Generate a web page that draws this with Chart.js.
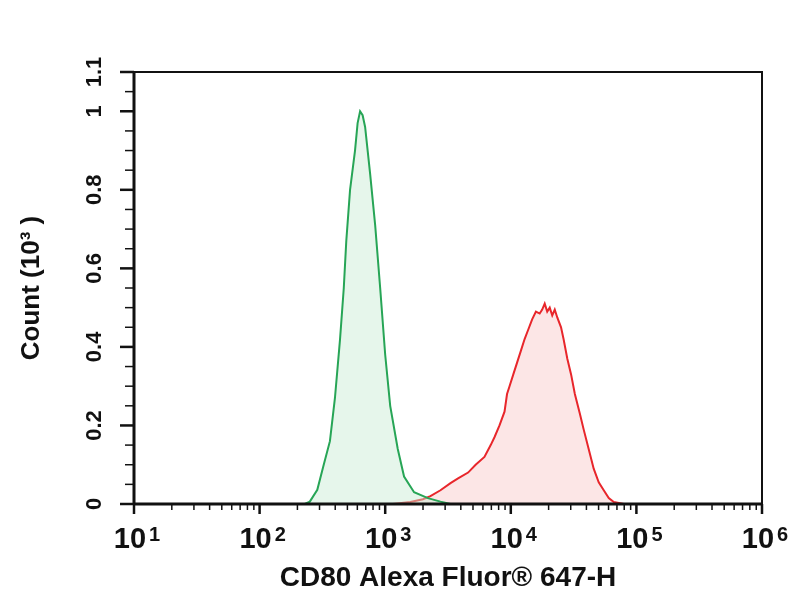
<!DOCTYPE html>
<html>
<head>
<meta charset="utf-8">
<script src="https://cdn.jsdelivr.net/npm/chart.js@4.4.1/dist/chart.umd.min.js"></script>
<style>
html,body{margin:0;padding:0;background:#fff;}
</style>
</head>
<body>
<canvas id="histo" width="804" height="600"></canvas>
<script>
// control (green) and CD80 stained (red) histograms, x = intensity, y = count (10^3)
const greenX = [229, 251, 288, 324, 363, 398, 437, 468, 490, 525, 575, 603, 631, 661, 692, 759, 832, 912, 1000, 1096, 1259, 1413, 1698, 2188, 2754, 3311];
const greenY = [0, 0.006, 0.036, 0.10, 0.16, 0.27, 0.42, 0.55, 0.67, 0.80, 0.90, 0.97, 1.00, 0.99, 0.96, 0.84, 0.71, 0.55, 0.38, 0.25, 0.14, 0.07, 0.03, 0.015, 0.006, 0];

const redX = [1148, 1585, 1995, 2291, 2754, 3311, 3802, 4571, 5248, 6166, 6918, 7413, 8128, 8913, 9333, 9772, 10471, 11220, 12023, 12882, 13804, 14791, 15849, 16982, 17783, 18621, 19498, 20417, 21380, 22387, 23442, 25119, 26303, 28184, 30200, 32359, 35481, 38019, 41687, 45709, 50119, 54954, 60256, 66069, 79433];
const redY = [0, 0.005, 0.012, 0.02, 0.035, 0.053, 0.065, 0.08, 0.10, 0.12, 0.15, 0.17, 0.20, 0.235, 0.28, 0.30, 0.33, 0.36, 0.39, 0.42, 0.445, 0.47, 0.49, 0.485, 0.495, 0.51, 0.49, 0.50, 0.48, 0.495, 0.475, 0.45, 0.42, 0.37, 0.33, 0.28, 0.23, 0.19, 0.14, 0.09, 0.055, 0.035, 0.015, 0.005, 0];

const yTicks = [0, 0.2, 0.4, 0.6, 0.8, 1, 1.1];
const xDecades = [1e1, 1e2, 1e3, 1e4, 1e5, 1e6];
const xExponents = ['1', '2', '3', '4', '5', '6'];

function toPoints(xs, ys){
  return xs.map((v, i) => ({x: v, y: ys[i]}));
}

const FONT = "'Liberation Sans', Arial, sans-serif";

function line(ctx, x1, y1, x2, y2, w){
  ctx.lineWidth = w;
  ctx.beginPath();
  ctx.moveTo(x1, y1);
  ctx.lineTo(x2, y2);
  ctx.stroke();
}

/* frame, tick marks and tick labels */
const flowAxes = {
  id: 'flowAxes',
  afterDraw(chart){
    const {ctx, chartArea: a, scales: {x, y}} = chart;
    ctx.save();
    ctx.strokeStyle = '#111';
    ctx.fillStyle = '#111';

    ctx.lineWidth = 2;
    ctx.strokeRect(a.left, a.top, a.right - a.left, a.bottom - a.top);
    line(ctx, a.left, a.top, a.left, a.bottom + 1, 3);
    line(ctx, a.left - 1, a.bottom, a.right + 1, a.bottom, 3);

    // x ticks
    xDecades.forEach(function(d, i){
      const px = x.getPixelForValue(d);
      line(ctx, px, a.bottom, px, a.bottom + 10, 2.5);
      if(i < xDecades.length - 1){
        for(let m = 2; m < 10; m++){
          const mx = x.getPixelForValue(d * m);
          line(ctx, mx, a.bottom, mx, a.bottom + 6, 1.5);
        }
      }
    });

    // y ticks
    for(let k = 0; k <= 22; k++){
      const v = k * 0.05;
      const py = y.getPixelForValue(v);
      const major = yTicks.some(t => Math.abs(t - v) < 1e-6);
      line(ctx, a.left - (major ? 14 : 9), py, a.left, py, major ? 2.5 : 1.5);
    }

    // y labels (rotated)
    ctx.font = 'bold 22px ' + FONT;
    ctx.textAlign = 'center';
    ctx.textBaseline = 'alphabetic';
    yTicks.forEach(function(v){
      const py = y.getPixelForValue(v);
      ctx.save();
      ctx.translate(101, py);
      ctx.rotate(-Math.PI / 2);
      ctx.fillText(String(v), 0, 0);
      ctx.restore();
    });

    // x labels 10^n
    ctx.textAlign = 'left';
    xDecades.forEach(function(d, i){
      const px = x.getPixelForValue(d);
      ctx.font = 'bold 29px ' + FONT;
      const w1 = ctx.measureText('10').width;
      ctx.font = 'bold 20px ' + FONT;
      const w2 = ctx.measureText(xExponents[i]).width;
      const gap = 3;
      const start = px + 3 - (w1 + w2 + gap) / 2;
      ctx.font = 'bold 29px ' + FONT;
      ctx.fillText('10', start, 548);
      ctx.font = 'bold 20px ' + FONT;
      ctx.fillText(xExponents[i], start + w1 + gap, 541);
    });

    ctx.restore();
  }
};

new Chart(document.getElementById('histo'), {
  type: 'line',
  data: {
    datasets: [
      {
        label: 'Control',
        data: toPoints(greenX, greenY),
        borderColor: '#27a556',
        backgroundColor: 'rgba(200,235,210,0.45)',
        borderWidth: 2,
        pointRadius: 0,
        fill: 'origin',
        tension: 0
      },
      {
        label: 'CD80',
        data: toPoints(redX, redY),
        borderColor: '#e8262b',
        backgroundColor: 'rgba(250,205,205,0.5)',
        borderWidth: 2,
        pointRadius: 0,
        fill: 'origin',
        tension: 0
      }
    ]
  },
  options: {
    responsive: false,
    devicePixelRatio: 1,
    animation: false,
    layout: {padding: {left: 0, right: 42, top: 72, bottom: 0}},
    plugins: {legend: {display: false}, tooltip: {enabled: false}},
    scales: {
      x: {
        type: 'logarithmic',
        min: 10,
        max: 1e6,
        grid: {display: false},
        border: {display: false},
        ticks: {display: false},
        afterBuildTicks: function(s){ s.ticks = xDecades.map(v => ({value: v})); },
        afterFit: function(s){ s.height = 96; },
        title: {
          display: true,
          text: 'CD80 Alexa Fluor® 647-H',
          color: '#111',
          font: {family: FONT, size: 28, weight: 'bold'},
          padding: {top: 0, bottom: 5}
        }
      },
      y: {
        min: 0,
        max: 1.1,
        grid: {display: false},
        border: {display: false},
        ticks: {display: false},
        afterBuildTicks: function(s){ s.ticks = yTicks.map(v => ({value: v})); },
        afterFit: function(s){ s.width = 134; },
        title: {
          display: true,
          text: 'Count (10³ )',
          color: '#111',
          font: {family: FONT, size: 26, weight: 'bold'},
          padding: {top: 16, bottom: 0}
        }
      }
    }
  },
  plugins: [flowAxes]
});
</script>
</body>
</html>
